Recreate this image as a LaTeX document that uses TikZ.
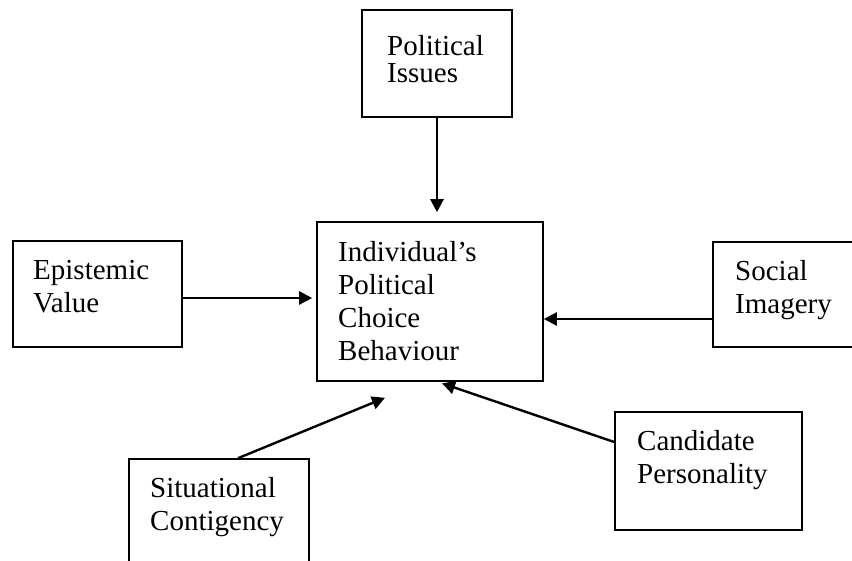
\documentclass[tikz,border=0pt]{standalone}
\usepackage{fontspec}
\setmainfont{Liberation Serif}
\usetikzlibrary{arrows.meta,positioning,calc}
\tikzset{
  box/.style={rectangle, draw=black, line width=1.6pt, inner sep=0pt},
  lbl/.style={anchor=base west, align=left, inner sep=0pt,
              font=\fontsize{29}{33}\selectfont},
  arr/.style={-{Triangle[length=13pt,width=13pt]}, line width=2.4pt, draw=black},
}
\begin{document}
\begin{tikzpicture}[x=1pt, y=-1pt]
  \useasboundingbox (0,0) rectangle (852,560);
  \clip (0,0) rectangle (852,560);
  \node[box, minimum width=150pt, minimum height=107pt] (issues)      at (437,63.5)  {};
  \node[box, minimum width=226pt, minimum height=159pt] (choice)      at (430,301.5) {};
  \node[box, minimum width=169pt, minimum height=106pt] (epistemic)   at (97.5,294)  {};
  \node[box, minimum width=160pt, minimum height=105pt] (social)      at (793,294.5) {};
  \node[box, minimum width=187pt, minimum height=118pt] (candidate)   at (708.5,471) {};
  \node[box, minimum width=180pt, minimum height=120pt] (situational) at (219,519)   {};
  % labels sit on the baseline of their last line
  \node[lbl, font=\fontsize{29}{27}\selectfont] (issues-t) at (387,82) {Political\\Issues};
  \node[lbl] (choice-t)      at (338,360) {Individual’s\\Political\\Choice\\Behaviour};
  \node[lbl] (epistemic-t)   at (33,312)  {Epistemic\\Value};
  \node[lbl] (social-t)      at (735,313) {Social\\Imagery};
  \node[lbl] (candidate-t)   at (637,483) {Candidate\\Personality};
  \node[lbl] (situational-t) at (150,530) {Situational\\Contigency};
  \coordinate (ev-out) at ($(epistemic.east)+(0,4)$);
  \coordinate (si-out) at ($(social.west)+(0,24.5)$);
  \coordinate (sc-out) at ($(situational.north)+(19,0)$);
  \coordinate (sc-in)  at ($(choice.south)+(-45,16)$);
  \coordinate (cp-out) at ($(candidate.west)+(0,-29)$);
  \coordinate (cp-in)  at ($(choice.south)+(12,1.5)$);
  \draw[arr, shorten >=9pt] (issues.south) -- (issues.south |- choice.north);
  \draw[arr, shorten >=4pt] (ev-out) -- (ev-out -| choice.west);
  \draw[arr] (si-out) -- (si-out -| choice.east);
  \draw[arr] (sc-out) -- (sc-in);
  \draw[arr] (cp-out) -- (cp-in);
\end{tikzpicture}
\end{document}
